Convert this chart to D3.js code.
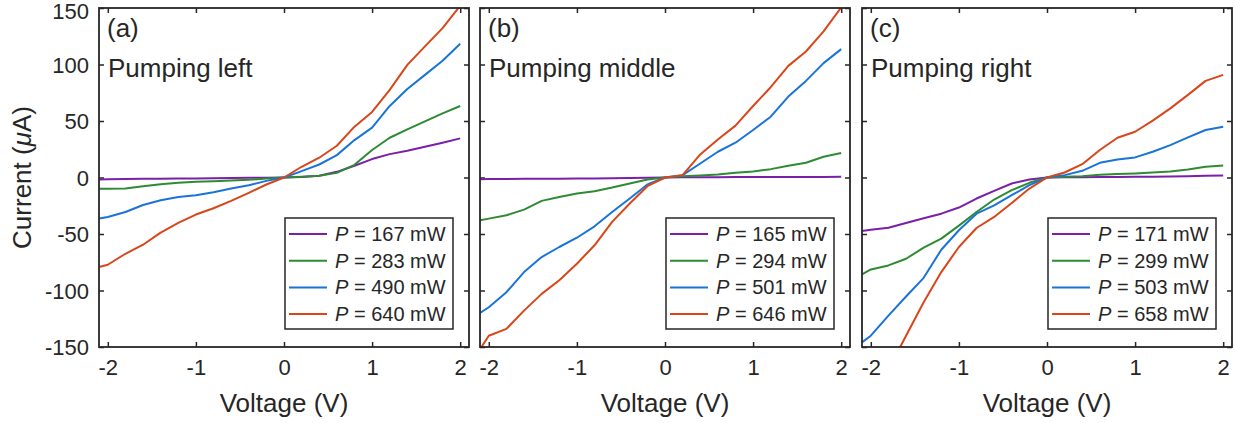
<!DOCTYPE html>
<html><head><meta charset="utf-8">
<script src="https://cdnjs.cloudflare.com/ajax/libs/d3/7.8.5/d3.min.js"></script>
<style>body{margin:0;background:#fff}svg{display:block}text{font-family:"Liberation Sans",Arial,Helvetica,sans-serif;fill:#262626}</style>
</head><body>
<svg id="c" width="1235" height="423"></svg>
<script>
// ---------- data ----------
const voltage = [-2.1,-2.0,-1.8,-1.6,-1.4,-1.2,-1.0,-0.8,-0.6,-0.4,-0.2,0,0.2,0.4,0.6,0.8,1.0,1.2,1.4,1.6,1.8,2.0];
const xTicks = [-2,-1,0,1,2];
const yTicks = [-150,-100,-50,0,50,100,150];
const panelLetters = ["(a)","(b)","(c)"];
const panelTitles = ["Pumping left","Pumping middle","Pumping right"];
const powersA = [167,283,490,640];
const powersB = [165,294,501,646];
const powersC = [171,299,503,658];
// panel (a)
const a167 = [-1.8,-1.6,-1.4,-1.2,-1.0,-0.9,-0.8,-0.6,-0.5,-0.3,-0.2,0,0.5,1.5,5.0,10.4,16.3,20.7,23.7,27.2,30.8,34.6];
const a283 = [-10.0,-9.9,-9.8,-7.7,-5.9,-4.7,-3.8,-3.3,-2.7,-2.1,-0.9,0,0.6,1.5,4.1,11.2,24.3,35.2,42.6,49.7,56.8,63.3];
const a490 = [-36.4,-34.9,-30.5,-24.3,-20.1,-17.2,-15.7,-13.0,-9.8,-6.8,-3.0,0,5.6,11.5,19.8,33.1,44.1,63.3,78.4,90.8,103.3,118.3];
const a640 = [-79.3,-77.2,-67.5,-59.5,-48.8,-40.2,-32.8,-27.2,-20.7,-13.6,-6.2,0,9.5,17.5,28.1,45.0,58.0,77.5,99.7,116.0,132.2,152.0];
// panel (b)
const b165 = [-1.5,-1.4,-1.3,-1.2,-1.1,-1.0,-0.9,-0.8,-0.6,-0.5,-0.3,0,0.2,0.3,0.3,0.4,0.4,0.4,0.5,0.5,0.5,0.6];
const b294 = [-37.9,-36.4,-33.4,-28.4,-20.7,-17.2,-14.2,-12.1,-8.9,-5.3,-1.8,0,1.2,1.8,2.7,4.1,5.3,7.4,10.4,13.0,18.3,21.6];
const b501 = [-119.8,-114.8,-101.5,-83.7,-70.4,-61.5,-53.3,-43.2,-30.5,-18.6,-6.2,0,2.1,12.4,22.8,30.8,42.0,53.8,71.6,85.5,101.2,113.6];
const b646 = [-152.0,-140.0,-134.0,-117.8,-103.0,-91.0,-76.3,-60.0,-39.3,-23.0,-7.7,0,2.1,20.4,33.7,45.9,63.3,79.9,98.8,111.5,129.3,150.5];
// panel (c)
const c171 = [-47.3,-46.2,-44.4,-40.2,-36.1,-32.0,-26.6,-18.6,-11.8,-5.3,-1.8,0,0.2,0.3,0.4,0.5,0.6,0.7,0.9,1.1,1.5,1.8];
const c299 = [-85.8,-81.4,-77.8,-71.9,-62.1,-54.1,-42.6,-30.5,-19.5,-11.2,-4.7,0,0.6,1.2,2.4,3.0,3.6,4.4,5.3,7.1,9.5,10.7];
const c503 = [-145.9,-140.0,-122.2,-105.3,-88.8,-63.9,-46.7,-32.0,-24.6,-15.7,-6.8,0,2.1,5.9,13.0,16.0,17.8,22.8,28.7,35.5,42.0,45.0];
const c658 = [null,null,-170.0,-140.0,-110.4,-83.7,-61.5,-44.7,-34.9,-22.5,-9.8,0,4.4,11.8,24.3,35.2,40.5,50.3,61.2,73.1,85.5,90.8];
const colors = ["#7B1FA8","#2E8B34","#1A74D8","#D8461A"];

const panels = [
  {series:[a167,a283,a490,a640], powers:powersA},
  {series:[b165,b294,b501,b646], powers:powersB},
  {series:[c171,c299,c503,c658], powers:powersC}
];
const lefts = [99,480,862];
const pw = 370, plotTop = 8, plotBottom = 347;

const svg = d3.select("#c");
const y = d3.scaleLinear().domain([-150,150]).range([plotBottom, plotTop]);

panels.forEach((p, i) => {
  const x = d3.scaleLinear().domain([-2.1,2.1]).range([lefts[i], lefts[i]+pw]);
  const g = svg.append("g");
  const cid = "clip"+i;
  svg.append("clipPath").attr("id",cid).append("rect")
    .attr("x",lefts[i]).attr("y",plotTop).attr("width",pw).attr("height",plotBottom-plotTop);

  // axes with inward ticks
  const ax = g.append("g").attr("transform",`translate(0,${plotBottom})`)
    .call(d3.axisBottom(x).tickValues(xTicks).tickSize(-5).tickPadding(12).tickFormat(d3.format("d")));
  const axT = g.append("g").attr("transform",`translate(0,${plotTop})`)
    .call(d3.axisTop(x).tickValues(xTicks).tickSize(-5).tickFormat(""));
  const ay = g.append("g").attr("transform",`translate(${lefts[i]},0)`)
    .call(d3.axisLeft(y).tickValues(yTicks).tickSize(-5).tickPadding(10).tickFormat(i===0? d3.format("d") : ""));
  const ayR = g.append("g").attr("transform",`translate(${lefts[i]+pw},0)`)
    .call(d3.axisRight(y).tickValues(yTicks).tickSize(-5).tickFormat(""));
  [ax,axT,ay,ayR].forEach(a=>{
    a.select(".domain").remove();
    a.selectAll(".tick line").attr("stroke","#262626").attr("stroke-width",1.5);
    a.selectAll("text").style("font-size","22px").attr("fill","#262626").style("font-family",'"Liberation Sans",Arial,sans-serif');
  });
  ax.selectAll("text").text(d=> d<0 ? "-"+Math.abs(d) : d);
  if(i===0) ay.selectAll("text").text(d=> d<0 ? "-"+Math.abs(d) : d).attr("dy",d=> d===150 ? "0.48em" : "0.36em");

  // lines
  const line = d3.line().defined(d=>d[1]!==null).x(d=>x(d[0])).y(d=>y(d[1]));
  p.series.forEach((s, k) => {
    g.append("path").datum(voltage.map((v,j)=>[v,s[j]]))
      .attr("d",line).attr("fill","none").attr("stroke",colors[k])
      .attr("stroke-width",2).attr("stroke-linejoin","round")
      .attr("clip-path",`url(#${cid})`);
  });

  // frame
  g.append("rect").attr("x",lefts[i]).attr("y",plotTop).attr("width",pw).attr("height",plotBottom-plotTop)
    .attr("fill","none").attr("stroke","#262626").attr("stroke-width",1.8);

  // panel labels
  g.append("text").attr("x",lefts[i]+8).attr("y",37).style("font-size","26px").text(panelLetters[i]);
  g.append("text").attr("x",lefts[i]+9).attr("y",77).style("font-size","26px").text(panelTitles[i]);

  // legend
  const lw = 168, lh = 111;
  const lx = lefts[i]+pw-16-lw, ly = 218;
  const lg = g.append("g");
  lg.append("rect").attr("x",lx).attr("y",ly).attr("width",lw).attr("height",lh)
    .attr("fill","#fff").attr("stroke","#262626").attr("stroke-width",1.5);
  p.powers.forEach((pv,k)=>{
    const ry = ly + 16 + k*26.7;
    lg.append("line").attr("x1",lx+4).attr("x2",lx+42).attr("y1",ry).attr("y2",ry)
      .attr("stroke",colors[k]).attr("stroke-width",2);
    const t = lg.append("text").attr("x",lx+50).attr("y",ry+7).style("font-size","20px");
    t.append("tspan").style("font-style","italic").text("P");
    t.append("tspan").text(" = "+pv+" mW");
  });

  // x label
  g.append("text").attr("x",lefts[i]+pw/2).attr("y",412).attr("text-anchor","middle")
    .style("font-size","26px").text("Voltage (V)");
});

// y label
const yl = svg.append("text").attr("transform",`translate(31,${(plotTop+plotBottom)/2}) rotate(-90)`)
  .attr("text-anchor","middle").style("font-size","26px");
yl.append("tspan").text("Current (");
yl.append("tspan").style("font-style","italic").text("μ");
yl.append("tspan").text("A)");
</script>
</body></html>
